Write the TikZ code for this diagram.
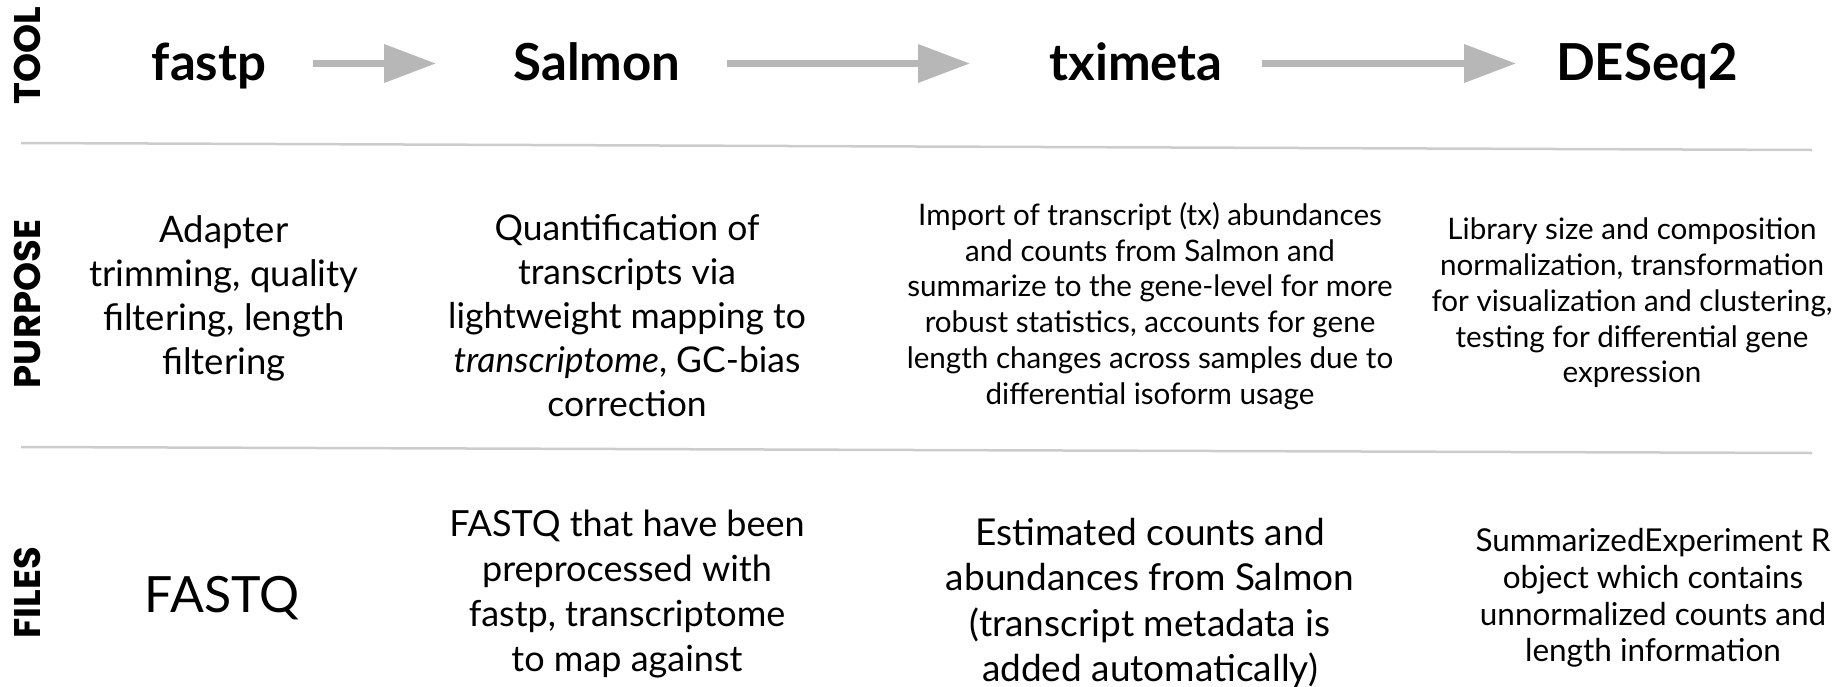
\documentclass[tikz,border=0pt]{standalone}
\usepackage{fontspec}
\setmainfont{Lato}
\newfontfamily\rowfont{Poppins}
\usetikzlibrary{arrows.meta}
\definecolor{rulegray}{HTML}{CCCCCC}
\definecolor{arrowgray}{HTML}{B7B7B7}
\tikzset{
  toolname/.style={font=\fontsize{51}{60}\selectfont\bfseries, inner sep=0pt,
    text height=33pt, text depth=0pt},
  rowlabel/.style={font=\rowfont\fontsize{37}{44}\selectfont\bfseries,
    rotate=90, inner sep=0pt},
  bigtext/.style={align=center, inner sep=0pt, font=\fontsize{35.5}{44}\selectfont},
  smalltext/.style={align=center, inner sep=0pt, font=\fontsize{29.6}{35.7}\selectfont},
  flow/.style={arrowgray, line width=7pt, -{Triangle[length=52pt,width=37pt]}},
  rowrule/.style={rulegray, line width=2.5pt}
}
\begin{document}
\begin{tikzpicture}[x=1pt, y=-1pt]
  \useasboundingbox (0,0) rectangle (1833,686);
  % row labels
  \node[rowlabel] (ltool) at (27,56) {TOOL};
  \node[rowlabel] (lpurpose) at (27,304) {PURPOSE};
  \node[rowlabel] (lfiles) at (27,593) {FILES};
  % separators
  \draw[rowrule] (21,143) -- (1812,150);
  \draw[rowrule] (21,447) -- (1812,453);
  % tools
  \node[toolname] (fastp) at (209,63.5) {fastp};
  \node[toolname] (salmon) at (597,63.5) {Salmon};
  \node[toolname] (tximeta) at (1136,63.5) {tximeta};
  \node[toolname] (deseq) at (1647,63.5) {DESeq2};
  \draw[flow, shorten <=104pt, shorten >=161pt] (fastp.center) -- (salmon.center);
  \draw[flow, shorten <=130pt, shorten >=166pt] (salmon.center) -- (tximeta.center);
  \draw[flow, shorten <=126pt, shorten >=131pt] (tximeta.center) -- (deseq.center);
  % purpose
  \node[bigtext, font=\fontsize{36.5}{44}\selectfont] (pfastp) at (224,298) {Adapter\\ trimming, quality\\
    filtering, length\\ filtering};
  \node[bigtext] (psalmon) at (627,316) {Quantification of\\ transcripts via\\ lightweight mapping to\\
    \textit{transcriptome}, GC-bias\\ correction};
  \node[smalltext] (ptximeta) at (1150,306) {Import of transcript (tx) abundances\\
    and counts from Salmon and\\ summarize to the gene-level for more\\
    robust statistics, accounts for gene\\ length changes across samples due to\\
    differential isoform usage};
  \node[smalltext] (pdeseq) at (1632,303) {Library size and composition\\
    normalization, transformation\\ for visualization and clustering,\\
    testing for differential gene\\ expression};
  % files
  \node[anchor=base, inner sep=0pt, font=\fontsize{50}{60}\selectfont] (ffastp) at (222,612) {FASTQ};
  \node[bigtext, font=\fontsize{36}{45}\selectfont] (fsalmon) at (627,594) {FASTQ that have been\\
    preprocessed with\\ fastp, transcriptome\\ to map against};
  \node[bigtext, font=\fontsize{37}{45.5}\selectfont] (ftximeta) at (1150,603) {Estimated counts and\\
    abundances from Salmon\\ (transcript metadata is\\ added automatically)};
  \node[smalltext, font=\fontsize{31.5}{36.6}\selectfont] (fdeseq) at (1653,598) {SummarizedExperiment R\\
    object which contains\\ unnormalized counts and\\ length information};
\end{tikzpicture}
\end{document}
